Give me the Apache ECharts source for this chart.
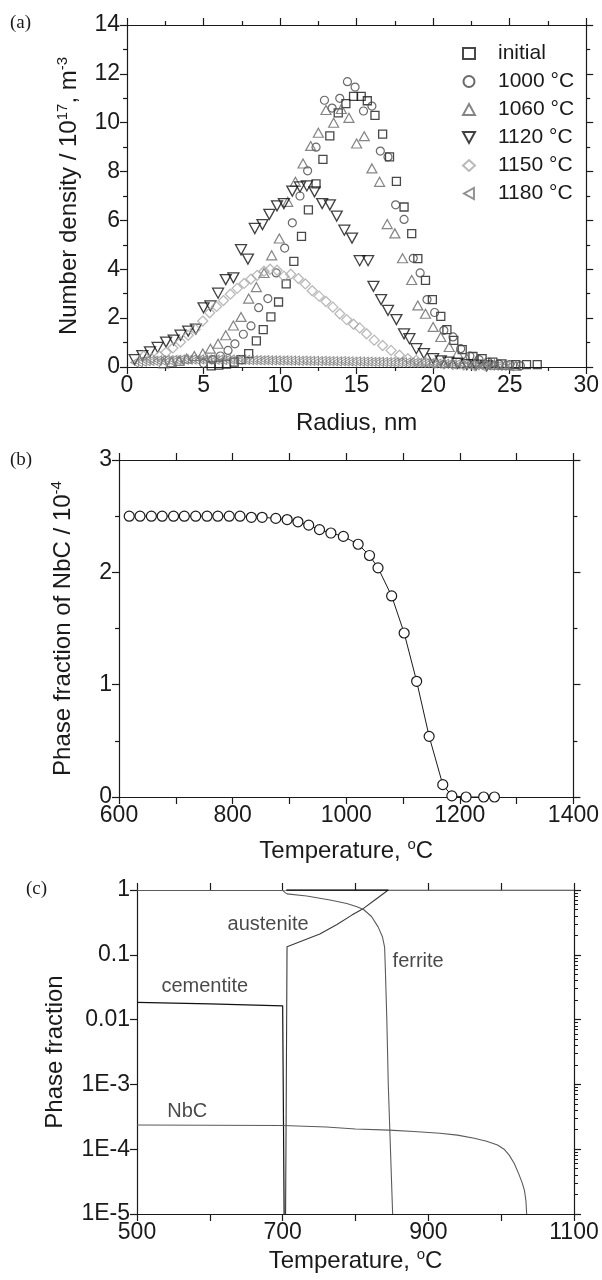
<!DOCTYPE html>
<html><head><meta charset="utf-8">
<script src="https://cdn.jsdelivr.net/npm/echarts@6/dist/echarts.min.js"></script>
<style>html,body{margin:0;padding:0;background:#fff}#c{width:602px;height:1280px}</style>
</head><body><div id="c"></div>
<script>
// ---------- Panel (a): number density vs radius ----------
const sInitial = [[5.5,0.05],[6.0,0.08],[6.5,0.12],[7.0,0.2],[7.45,0.3],[7.95,0.55],[8.45,1.07],[8.9,1.53],[9.4,2.05],[9.9,2.66],[10.4,3.4],[10.9,4.32],[11.4,5.35],[11.85,6.43],[12.35,7.5],[12.8,8.5],[13.25,9.46],[13.8,10.4],[14.3,10.78],[14.8,11.08],[15.3,11.08],[15.7,10.9],[16.2,10.3],[16.7,9.53],[17.15,8.6],[17.6,7.6],[18.1,6.55],[18.6,5.46],[19.0,4.44],[19.5,3.55],[19.95,2.76],[20.5,2.07],[20.9,1.53],[21.35,1.09],[21.9,0.71],[22.6,0.43],[23.2,0.34],[23.9,0.2],[24.5,0.13],[25.4,0.1],[26.1,0.1],[26.8,0.1]];
const s1000 = [[5.0,0.15],[5.6,0.3],[6.1,0.45],[6.6,0.68],[7.05,0.95],[7.6,1.34],[8.1,1.68],[8.6,2.43],[9.2,2.8],[9.75,3.85],[10.3,4.87],[10.8,5.9],[11.3,7.0],[11.8,8.03],[12.35,9.0],[12.9,10.92],[13.4,10.6],[13.9,11.0],[14.4,11.68],[14.9,11.46],[15.45,10.48],[16.0,10.68],[16.55,8.84],[17.05,8.6],[17.55,6.64],[18.1,6.04],[18.7,4.45],[19.15,3.85],[19.6,2.76],[20.1,2.23],[20.7,1.5],[21.3,1.23],[21.8,0.75],[22.4,0.45],[23.0,0.3],[23.6,0.2],[24.3,0.12],[25.0,0.1],[25.7,0.05]];
const s1060 = [[2.4,0.15],[2.9,0.2],[3.4,0.25],[3.9,0.35],[4.4,0.45],[4.95,0.55],[5.45,0.75],[5.95,0.95],[6.45,1.3],[6.95,1.7],[7.45,2.05],[7.95,2.8],[8.45,3.27],[8.95,3.85],[9.45,4.57],[9.95,5.26],[10.5,6.76],[11.0,7.58],[11.5,8.33],[12.0,9.05],[12.5,9.59],[13.0,10.52],[13.5,10.0],[14.0,10.56],[14.5,10.2],[15.0,9.15],[15.5,9.45],[16.0,8.13],[16.5,7.58],[17.0,5.85],[17.5,5.47],[18.0,4.45],[18.6,3.56],[19.0,2.52],[19.5,2.18],[20.0,1.64],[20.5,1.23],[21.05,0.82],[21.6,0.55],[22.2,0.35],[22.8,0.22],[23.4,0.15],[24.0,0.1],[24.7,0.08],[25.4,0.05]];
const s1120 = [[0.5,0.3],[1.0,0.47],[1.5,0.62],[2.0,0.8],[2.55,1.02],[3.05,1.1],[3.5,1.3],[4.0,1.47],[4.5,1.55],[5.0,2.42],[5.45,2.5],[5.95,3.02],[6.45,3.58],[6.95,3.65],[7.45,4.8],[7.9,4.42],[8.35,5.67],[8.85,5.83],[9.3,6.25],[9.8,6.6],[10.25,6.69],[10.8,7.2],[11.3,7.37],[11.75,7.41],[12.25,7.17],[12.75,6.69],[13.25,6.64],[13.7,6.18],[14.2,5.6],[14.7,5.28],[15.2,4.35],[15.75,4.35],[16.1,3.3],[16.6,2.76],[17.05,2.32],[17.6,1.94],[18.1,1.36],[18.45,1.16],[18.9,0.75],[19.4,0.55],[20.0,0.34],[20.5,0.25],[21.0,0.2],[21.6,0.15],[22.2,0.1],[22.8,0.08],[23.5,0.05]];
const s1150 = [[1.1,0.45],[1.6,0.35],[2.1,0.45],[2.55,0.6],[3.0,0.78],[3.5,1.02],[4.0,1.3],[4.45,1.55],[4.95,1.88],[5.4,2.22],[5.85,2.48],[6.3,2.72],[6.75,2.98],[7.2,3.22],[7.65,3.42],[8.1,3.6],[8.5,3.75],[8.95,3.92],[9.35,4.0],[9.8,3.96],[10.25,3.72],[10.7,3.8],[11.2,3.62],[11.65,3.4],[12.1,3.12],[12.55,2.9],[13.0,2.68],[13.45,2.45],[13.9,2.18],[14.35,1.94],[14.8,1.75],[15.2,1.6],[15.65,1.36],[16.15,1.1],[16.7,0.88],[17.25,0.68],[17.8,0.48],[18.35,0.34],[18.9,0.27],[19.5,0.2],[20.1,0.15],[20.7,0.12],[21.3,0.1],[22.0,0.08],[22.7,0.06],[23.4,0.05]];
const r1180 = [0.5,0.75,1,1.25,1.5,1.75,2,2.25,2.5,2.75,3,3.25,3.5,3.75,4,4.25,4.5,4.75,5,5.25,5.5,5.75,6,6.25,6.5,6.75,7,7.25,7.5,7.75,8,8.25,8.5,8.75,9,9.25,9.5,9.75,10,10.25,10.5,10.75,11,11.25,11.5,11.75,12,12.25,12.5,12.75,13,13.25,13.5,13.75,14,14.25,14.5,14.75,15,15.25,15.5,15.75,16,16.25,16.5,16.75,17,17.25,17.5,17.75,18,18.25,18.5,18.75,19,19.25,19.5,19.75,20,20.25,20.5,20.75,21,21.25,21.5,21.75,22,22.25,22.5,22.75,23,23.25,23.5,23.75,24,24.25,24.5,24.75,25];
const v1180 = [0.18,0.2,0.22,0.24,0.25,0.26,0.27,0.27,0.28,0.28,0.29,
  0.29,0.3,0.3,0.3,0.31,0.3,0.31,0.3,0.3,0.31,0.3,0.3,0.29,0.3,0.3,0.29,0.29,0.3,0.29,0.28,
  0.28,0.28,0.27,0.28,0.27,0.27,0.27,0.26,0.27,0.26,0.26,0.26,0.25,0.26,0.25,0.25,0.25,0.24,0.25,0.24,0.24,0.24,0.23,0.24,
  0.23,0.23,0.22,0.23,0.22,0.22,0.22,0.21,0.21,0.21,0.2,0.2,0.2,0.19,0.19,0.19,0.18,0.18,0.17,0.17,
  0.16,0.16,0.15,0.15,0.14,0.13,0.13,0.12,0.11,0.11,0.1,0.1,0.09,0.09,0.08,0.08,0.07,0.07,0.06,0.06,0.05,0.05,0.05,0.04];
const legendA = ['initial','1000 °C','1060 °C','1120 °C','1150 °C','1180 °C'];

// ---------- Panel (b): NbC phase fraction ----------
const tempB = [618,637,657,676,696,715,735,755,774,794,813,833,852,876,896,915,934,953,973,995,1021,1041,1056,1080,1102,1124,1146,1170,1186,1211,1242,1261];
const fracB = [2.5,2.5,2.5,2.5,2.5,2.5,2.5,2.5,2.5,2.5,2.5,2.49,2.49,2.48,2.47,2.45,2.42,2.38,2.35,2.32,2.25,2.15,2.04,1.79,1.46,1.03,0.54,0.11,0.01,0,0,0];

// ---------- Panel (c): equilibrium phase fractions ----------
const cementite = [[500,0.0185],[600,0.0175],[700,0.0163],[701,0.0163],[702,1e-5]];
const austenite = [[704,1e-5],[705,1e-3],[706,0.133],[751,0.21],[774,0.29],[795,0.41],[811,0.52],[828,0.72],[845,1],[1100,1]];
const ferrite = [[500,0.985],[700,0.985],[703,0.92],[706,0.87],[733,0.81],[765,0.7],[788,0.62],[802,0.55],[811,0.5],[822,0.39],[831,0.27],[837,0.19],[840,0.13],[841,0.06],[843,0.01],[845,1e-3],[848,1e-4],[851,1e-5]];
const nbc = [[500,2.36e-4],[600,2.34e-4],[700,2.32e-4],[760,2.2e-4],[800,2.05e-4],[846,1.97e-4],[880,1.88e-4],[916,1.76e-4],[940,1.65e-4],[963,1.48e-4],[980,1.33e-4],[995,1.16e-4],[1004,1.0e-4],[1011,8.1e-5],[1018,6.0e-5],[1024,4.2e-5],[1029,3.0e-5],[1032,2.3e-5],[1034,1.6e-5],[1035,1e-5]];
const matrixTop = [[705,1],[845,1]];
const labelsC = [{name:'austenite', value:[680,0.29]},{name:'ferrite', value:[886,0.078]},{name:'cementite', value:[593,0.032]},{name:'NbC', value:[569,3.8e-4]}];
const logLabelsC = ['1','0.1','0.01','1E-3','1E-4','1E-5'];

// ---------- chart ----------
const F = '"Liberation Sans", Arial, sans-serif';
const INK = '#1a1a1a';
const chart = echarts.init(document.getElementById('c'), null, {renderer: 'canvas'});

const richName = {
  n: {fontFamily: F, fontSize: 24, color: INK, verticalAlign: 'bottom'},
  s: {fontFamily: F, fontSize: 15, color: INK, verticalAlign: 'top', padding: [0, 0, 11, 0]}
};
function ax(base, extra) {
  const o = Object.assign({
    splitLine: {show: false},
    axisLine: {show: true, onZero: false, lineStyle: {color: INK, width: 1.2}},
    axisTick: {show: true, inside: false, length: 7, lineStyle: {color: INK, width: 1.2}},
    minorTick: {show: true, splitNumber: 2, length: 4, lineStyle: {color: INK, width: 1.2}},
    axisLabel: {show: true, color: INK, fontFamily: F, fontSize: 23, margin: 7},
    nameTextStyle: {color: INK, fontFamily: F, fontSize: 24, rich: richName},
    nameLocation: 'middle'
  }, base);
  return Object.assign(o, extra || {});
}
const noLabel = {axisLabel: {show: false}};
const lab = f => ({axisLabel: {color: INK, fontFamily: F, fontSize: 23, margin: 7, formatter: f}});

const hollow = (c, w) => ({color: 'rgba(0,0,0,0)', borderColor: c, borderWidth: w || 1.2});

const option = {
  animation: false,
  backgroundColor: '#fff',
  grid: [
    {left: 127, top: 25, width: 460, height: 342},
    {left: 119, top: 460, width: 456, height: 337},
    {left: 137, top: 890, width: 437, height: 324}
  ],
  legend: {
    orient: 'vertical', left: 457, top: 38, itemWidth: 12, itemHeight: 11, itemGap: 7,
    data: legendA, textStyle: {color: INK, fontFamily: F, fontSize: 21, padding: [0, 0, 0, 18]},
    selectedMode: false
  },
  xAxis: [
    ax({type: 'value', gridIndex: 0, min: 0, max: 30, interval: 5, name: '{n|Radius, nm}', nameGap: 44}),
    ax({type: 'value', gridIndex: 0, min: 0, max: 30, interval: 5, position: 'top'}, noLabel),
    ax({type: 'value', gridIndex: 1, min: 600, max: 1400, interval: 100, name: '{n|Temperature, }{s|o}{n|C}', nameGap: 40,
        minorTick: {show: false}}, lab(v => (v % 200 === 0 ? String(v) : ''))),
    ax({type: 'value', gridIndex: 1, min: 600, max: 1400, interval: 100, position: 'top', minorTick: {show: false}}, noLabel),
    ax({type: 'value', gridIndex: 2, min: 500, max: 1100, interval: 100, name: '{n|Temperature, }{s|o}{n|C}', nameGap: 33,
        minorTick: {show: false}}, lab(v => ((v - 500) % 200 === 0 ? String(v) : ''))),
    ax({type: 'value', gridIndex: 2, min: 500, max: 1100, interval: 100, position: 'top', minorTick: {show: false},
        axisLine: {show: true, onZero: false, lineStyle: {color: '#9a9a9a', width: 1.2}}}, noLabel)
  ],
  yAxis: [
    ax({type: 'value', gridIndex: 0, min: 0, max: 14, interval: 2, name: '{n|Number density / 10}{s|17}{n|, m}{s|-3}', nameGap: 46}),
    ax({type: 'value', gridIndex: 0, min: 0, max: 14, interval: 2, position: 'right'}, noLabel),
    ax({type: 'value', gridIndex: 1, min: 0, max: 3, interval: 1, name: '{n|Phase fraction of NbC / 10}{s|-4}', nameGap: 44}),
    ax({type: 'value', gridIndex: 1, min: 0, max: 3, interval: 1, position: 'right'}, noLabel),
    ax({type: 'log', logBase: 10, gridIndex: 2, min: 1e-5, max: 1, name: '{n|Phase fraction}', nameGap: 70,
        minorTick: {show: false}}, lab(v => logLabelsC[Math.round(-Math.log10(v))])),
    ax({type: 'log', logBase: 10, gridIndex: 2, min: 1e-5, max: 1, position: 'right',
        minorTick: {show: true, splitNumber: 9, length: 4, lineStyle: {color: INK, width: 1}}}, noLabel)
  ],
  series: [
    {name: 'initial', type: 'scatter', xAxisIndex: 0, yAxisIndex: 0, data: sInitial, symbol: 'rect', symbolSize: 8, itemStyle: hollow('#1a1a1a', 1.3)},
    {name: '1000 °C', type: 'scatter', xAxisIndex: 0, yAxisIndex: 0, data: s1000, symbol: 'circle', symbolSize: 8, itemStyle: hollow('#444')},
    {name: '1060 °C', type: 'scatter', xAxisIndex: 0, yAxisIndex: 0, data: s1060, symbol: 'triangle', symbolSize: [10, 9], itemStyle: hollow('#666')},
    {name: '1120 °C', type: 'scatter', xAxisIndex: 0, yAxisIndex: 0, data: s1120, symbol: 'path://M0,0L10,0L5,9Z', symbolSize: [11, 10], itemStyle: hollow('#111', 1.3)},
    {name: '1150 °C', type: 'scatter', xAxisIndex: 0, yAxisIndex: 0, data: s1150, symbol: 'diamond', symbolSize: [10, 10], itemStyle: hollow('#a8a8a8', 1.3)},
    {name: '1180 °C', type: 'scatter', xAxisIndex: 0, yAxisIndex: 0, data: r1180.map((r, i) => [r, v1180[i]]), symbol: 'path://M9,0L9,10L0,5Z', symbolSize: [8, 9], itemStyle: hollow('#777', 1)},

    {name: 'NbC fraction', type: 'line', xAxisIndex: 2, yAxisIndex: 2, data: tempB.map((t, i) => [t, fracB[i]]),
     symbol: 'circle', symbolSize: 10, showAllSymbol: true, lineStyle: {color: INK, width: 1},
     itemStyle: {color: '#fff', borderColor: INK, borderWidth: 1.2}},

    {name: 'cementite', type: 'line', xAxisIndex: 4, yAxisIndex: 4, data: cementite, symbol: 'none', lineStyle: {color: '#111', width: 1.2}},
    {name: 'austenite', type: 'line', xAxisIndex: 4, yAxisIndex: 4, data: austenite, symbol: 'none', lineStyle: {color: '#3a3a3a', width: 1.1}},
    {name: 'ferrite', type: 'line', xAxisIndex: 4, yAxisIndex: 4, data: ferrite, symbol: 'none', lineStyle: {color: '#5a5a5a', width: 1.1}},
    {name: 'NbC', type: 'line', xAxisIndex: 4, yAxisIndex: 4, data: nbc, symbol: 'none', lineStyle: {color: '#5a5a5a', width: 1.1}},
    {name: 'matrix', type: 'line', xAxisIndex: 4, yAxisIndex: 4, data: matrixTop, symbol: 'none', lineStyle: {color: '#000', width: 1.6}},
    {name: 'labels', type: 'scatter', xAxisIndex: 4, yAxisIndex: 4, data: labelsC, symbolSize: 0,
     label: {show: true, position: [0, 0], align: 'center', verticalAlign: 'middle', formatter: '{b}',
       color: INK, fontFamily: F, fontSize: 20}}
  ],
  graphic: [
    {type: 'text', left: 10, top: 14, style: {text: '(a)', font: '19px "Liberation Serif", serif', fill: INK}},
    {type: 'text', left: 10, top: 451, style: {text: '(b)', font: '19px "Liberation Serif", serif', fill: INK}},
    {type: 'text', left: 26, top: 880, style: {text: '(c)', font: '19px "Liberation Serif", serif', fill: INK}}
  ]
};
chart.setOption(option);
</script></body></html>
